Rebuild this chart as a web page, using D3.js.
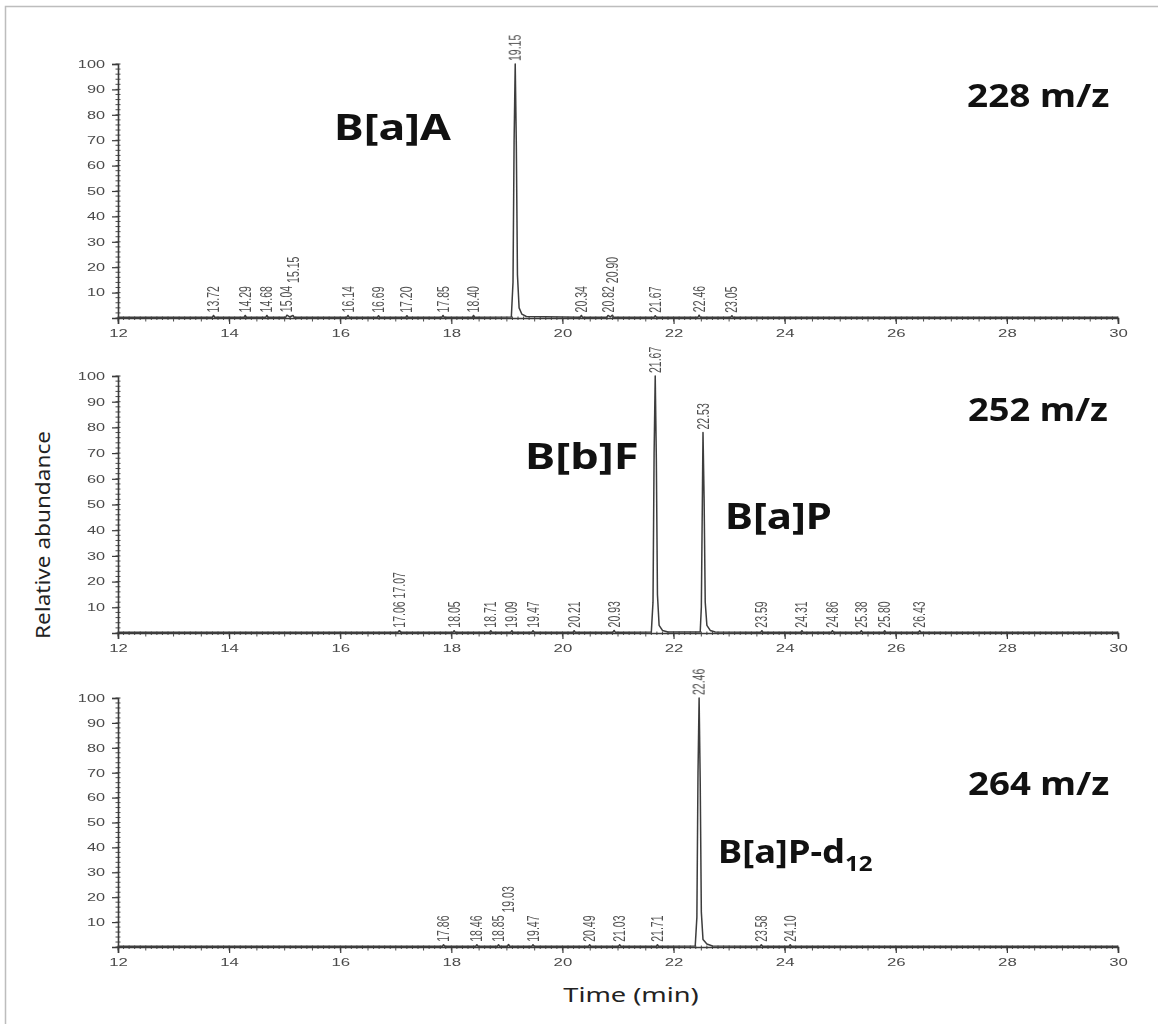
<!DOCTYPE html>
<html>
<head>
<meta charset="utf-8">
<script src="https://cdn.jsdelivr.net/npm/d3@7"></script>
<style>
  html, body { margin: 0; padding: 0; background: #fff; }
  svg { display: block; }
</style>
</head>
<body>
<svg id="chart" width="1158" height="1024"></svg>
<script>
// ---- Axis ticks --------------------------------------------------------
const timeTicks = [12, 14, 16, 18, 20, 22, 24, 26, 28, 30];
const abundanceTicks = [10, 20, 30, 40, 50, 60, 70, 80, 90, 100];

// ---- m/z 228 chromatogram: [time (min), relative abundance (%)] --------
const trace228 = [
  [12.00, 0.3], [13.70, 0.3], [13.72, 1.0], [13.74, 0.3],
  [14.27, 0.3], [14.29, 1.0], [14.31, 0.3],
  [14.66, 0.3], [14.68, 1.0], [14.70, 0.3],
  [15.02, 0.3], [15.04, 1.1], [15.09, 0.4], [15.15, 1.0], [15.17, 0.3],
  [16.12, 0.3], [16.14, 1.0], [16.16, 0.3],
  [16.67, 0.3], [16.69, 0.9], [16.71, 0.3],
  [17.18, 0.3], [17.20, 0.9], [17.22, 0.3],
  [17.83, 0.3], [17.85, 1.0], [17.87, 0.3],
  [18.38, 0.3], [18.40, 1.0], [18.42, 0.3],
  [19.08, 0.4], [19.11, 14], [19.13, 70], [19.15, 100], [19.17, 68],
  [19.19, 17], [19.22, 4], [19.27, 1.5], [19.35, 0.6],
  [20.32, 0.3], [20.34, 1.0], [20.36, 0.3],
  [20.80, 0.3], [20.82, 1.0], [20.86, 0.4], [20.90, 1.1], [20.92, 0.3],
  [21.65, 0.3], [21.67, 0.9], [21.69, 0.3],
  [22.44, 0.3], [22.46, 1.1], [22.48, 0.3],
  [23.03, 0.3], [23.05, 0.9], [23.07, 0.3],
  [30.00, 0.3]
];
const peaks228 = [
  [13.72, 1.0], [14.29, 1.0], [14.68, 1.0], [15.04, 1.1], [15.15, 1.0],
  [16.14, 1.0], [16.69, 0.9], [17.20, 0.9], [17.85, 1.0], [18.40, 1.0],
  [19.15, 100], [20.34, 1.0], [20.82, 1.0], [20.90, 1.1], [21.67, 0.9],
  [22.46, 1.1], [23.05, 0.9]
];

// ---- m/z 252 chromatogram ----------------------------------------------
const trace252 = [
  [12.00, 0.3], [17.04, 0.3], [17.06, 0.9], [17.065, 0.6], [17.07, 0.9], [17.09, 0.3],
  [18.03, 0.3], [18.05, 0.9], [18.07, 0.3],
  [18.69, 0.3], [18.71, 0.9], [18.73, 0.3],
  [19.07, 0.3], [19.09, 0.9], [19.11, 0.3],
  [19.45, 0.3], [19.47, 0.9], [19.49, 0.3],
  [20.19, 0.3], [20.21, 0.9], [20.23, 0.3],
  [20.91, 0.3], [20.93, 1.0], [20.95, 0.3],
  [21.60, 0.4], [21.63, 12], [21.65, 70], [21.67, 100], [21.69, 68],
  [21.71, 15], [21.74, 3], [21.80, 1.0], [21.90, 0.4],
  [22.48, 0.4], [22.50, 10], [22.52, 55], [22.53, 78], [22.55, 52],
  [22.57, 12], [22.60, 3], [22.66, 1.0], [22.75, 0.4],
  [23.57, 0.3], [23.59, 0.9], [23.61, 0.3],
  [24.29, 0.3], [24.31, 0.9], [24.33, 0.3],
  [24.84, 0.3], [24.86, 0.9], [24.88, 0.3],
  [25.36, 0.3], [25.38, 0.9], [25.40, 0.3],
  [25.78, 0.3], [25.80, 0.9], [25.82, 0.3],
  [26.41, 0.3], [26.43, 0.9], [26.45, 0.3],
  [30.00, 0.3]
];
const peaks252 = [
  [17.06, 0.9], [17.07, 0.9], [18.05, 0.9], [18.71, 0.9], [19.09, 0.9],
  [19.47, 0.9], [20.21, 0.9], [20.93, 1.0], [21.67, 100], [22.53, 78],
  [23.59, 0.9], [24.31, 0.9], [24.86, 0.9], [25.38, 0.9], [25.80, 0.9],
  [26.43, 0.9]
];

// ---- m/z 264 chromatogram ----------------------------------------------
const trace264 = [
  [12.00, 0.3], [17.84, 0.3], [17.86, 0.9], [17.88, 0.3],
  [18.44, 0.3], [18.46, 0.9], [18.48, 0.3],
  [18.83, 0.3], [18.85, 0.9], [18.87, 0.3],
  [19.01, 0.3], [19.03, 1.0], [19.05, 0.3],
  [19.45, 0.3], [19.47, 0.9], [19.49, 0.3],
  [20.47, 0.3], [20.49, 0.9], [20.51, 0.3],
  [21.01, 0.3], [21.03, 0.9], [21.05, 0.3],
  [21.69, 0.3], [21.71, 0.9], [21.73, 0.3],
  [22.39, 0.4], [22.42, 12], [22.44, 70], [22.46, 100], [22.48, 66],
  [22.50, 14], [22.53, 3], [22.60, 1.2], [22.70, 0.4],
  [23.56, 0.3], [23.58, 0.9], [23.60, 0.3],
  [24.08, 0.3], [24.10, 0.9], [24.12, 0.3],
  [30.00, 0.3]
];
const peaks264 = [
  [17.86, 0.9], [18.46, 0.9], [18.85, 0.9], [19.03, 1.0], [19.47, 0.9],
  [20.49, 0.9], [21.03, 0.9], [21.71, 0.9], [22.46, 100], [23.58, 0.9],
  [24.10, 0.9]
];

// ---- Text annotations --------------------------------------------------
const ionLabels = ["228 m/z", "252 m/z", "264 m/z"];
const compoundLabels228 = ["B[a]A"];
const compoundLabels252 = ["B[b]F", "B[a]P"];
const compoundLabel264 = { main: "B[a]P-d", sub: "12" };

// ---- Layout ------------------------------------------------------------
const svg = d3.select("#chart");
const x = d3.scaleLinear().domain([12, 30]).range([118, 1118]);

const panels = [
  { trace: trace228, peaks: peaks228, top: 64,  bottom: 318 },
  { trace: trace252, peaks: peaks252, top: 376, bottom: 633 },
  { trace: trace264, peaks: peaks264, top: 698, bottom: 947 }
];

const defs = svg.append("defs");
defs.append("filter").attr("id", "soft")
  .append("feGaussianBlur").attr("stdDeviation", 0.45);

// page frame
svg.append("path")
  .attr("d", "M5.5,1024 L5.5,6.5 L1158,6.5")
  .attr("fill", "none").attr("stroke", "#bdbdbd").attr("stroke-width", 1.5);

const axisColor = "#3a3a3a";
const tickFont = "'Liberation Sans', Arial, sans-serif";

function stretchText(sel, sx) {
  sel.each(function () {
    const t = d3.select(this);
    const tx = +t.attr("x") || 0;
    const ty = +t.attr("y") || 0;
    t.attr("x", 0).attr("y", 0)
      .attr("transform", `translate(${tx},${ty}) scale(${sx},1)`);
  });
}

panels.forEach((p, i) => {
  const y = d3.scaleLinear().domain([0, 100]).range([p.bottom, p.top]);
  const g = svg.append("g").attr("class", "panel-" + i);
  const axes = g.append("g").attr("filter", "url(#soft)");

  // x axis: minor ticks every 0.1 min, mid ticks every 0.5, labelled every 2
  const minorX = d3.range(120, 301).map(v => v / 10);
  axes.append("g")
    .attr("transform", `translate(0,${p.bottom})`)
    .selectAll("line").data(minorX).join("line")
    .attr("x1", d => x(d)).attr("x2", d => x(d))
    .attr("y1", -1.5)
    .attr("y2", d => (Math.round(d * 10) % 5 === 0 ? 3.5 : 2))
    .attr("stroke", axisColor).attr("stroke-width", 0.9);

  const xAxis = axes.append("g")
    .attr("transform", `translate(0,${p.bottom})`)
    .call(d3.axisBottom(x).tickValues(timeTicks).tickSize(6).tickPadding(6)
      .tickFormat(d3.format("d")));
  xAxis.select(".domain").attr("stroke", axisColor).attr("stroke-width", 1.6);
  xAxis.selectAll(".tick line").attr("stroke", axisColor).attr("stroke-width", 1.2);
  xAxis.selectAll("text")
    .attr("font-family", tickFont).attr("font-size", 10.5).attr("fill", "#4a4a4a")
    .call(stretchText, 1.6);

  // y axis: minor ticks every 2 %, labelled every 10 %
  const minorY = d3.range(0, 101, 2);
  axes.append("g")
    .attr("transform", `translate(${x(12)},0)`)
    .selectAll("line").data(minorY).join("line")
    .attr("x1", -2.5).attr("x2", 2.5)
    .attr("y1", d => y(d)).attr("y2", d => y(d))
    .attr("stroke", axisColor).attr("stroke-width", 0.9);

  const yAxis = axes.append("g")
    .attr("transform", `translate(${x(12)},0)`)
    .call(d3.axisLeft(y).tickValues(abundanceTicks).tickSize(6).tickPadding(7)
      .tickFormat(d3.format("d")));
  yAxis.select(".domain").attr("stroke", axisColor).attr("stroke-width", 1.6);
  yAxis.selectAll(".tick line").attr("stroke", axisColor).attr("stroke-width", 1.2);
  yAxis.selectAll("text")
    .attr("font-family", tickFont).attr("font-size", 10.5).attr("fill", "#4a4a4a")
    .call(stretchText, 1.55);

  // chromatogram trace
  const line = d3.line().x(d => x(d[0])).y(d => y(d[1]));
  g.append("path")
    .datum(p.trace)
    .attr("d", line)
    .attr("fill", "none")
    .attr("stroke", "#3c3c3c")
    .attr("stroke-width", 1.5)
    .attr("stroke-linejoin", "round")
    .attr("filter", "url(#soft)");

  // retention-time labels above each peak apex, lifted when they collide
  const lblG = g.append("g").attr("filter", "url(#soft)");
  const placed = [];
  p.peaks.slice().sort((a, b) => a[0] - b[0]).forEach(([t, a]) => {
    const px = x(t);
    const txt = lblG.append("text")
      .text(t.toFixed(2))
      .attr("font-family", tickFont)
      .attr("font-size", 10.5)
      .attr("fill", "#505050")
      .attr("dy", "0.35em");
    const len = txt.node().getComputedTextLength();
    let bottom = y(a) - 3;
    let moved = true;
    while (moved) {
      moved = false;
      for (const q of placed) {
        if (Math.abs(q.x - px) < 11 && bottom > q.top - 2 && bottom - len < q.bottom) {
          bottom = q.top - 3;
          moved = true;
        }
      }
    }
    placed.push({ x: px, bottom: bottom, top: bottom - len });
    txt.attr("transform", `translate(${px},${bottom}) scale(1.5,1) rotate(-90)`);
  });
});

// ---- Compound and ion annotations --------------------------------------
const annFont = "'Noto Sans', 'Open Sans', sans-serif";
function annotate(label, px, py, size, sx) {
  return svg.append("text")
    .attr("transform", `translate(${px},${py}) scale(${sx},1)`)
    .attr("font-family", annFont)
    .attr("font-weight", 700)
    .attr("font-size", size)
    .attr("fill", "#111")
    .text(label);
}

annotate(ionLabels[0], 967, 107, 33, 1.12);
annotate(ionLabels[1], 968, 421, 33, 1.1);
annotate(ionLabels[2], 968, 795, 33, 1.11);

annotate(compoundLabels228[0], 334, 140, 36, 1.24);
annotate(compoundLabels252[0], 525, 469, 36, 1.26);
annotate(compoundLabels252[1], 725, 529, 35, 1.2);

const dLabel = annotate(compoundLabel264.main, 718, 863, 33, 1.1);
dLabel.append("tspan")
  .attr("font-size", 22)
  .attr("dy", 8)
  .text(compoundLabel264.sub);

// ---- Axis titles -------------------------------------------------------
svg.append("text")
  .attr("transform", "translate(50,535) rotate(-90) scale(1.13,1)")
  .attr("text-anchor", "middle")
  .attr("font-family", annFont)
  .attr("font-size", 20)
  .attr("fill", "#222")
  .text("Relative abundance");

svg.append("text")
  .attr("transform", "translate(631,1002) scale(1.36,1)")
  .attr("text-anchor", "middle")
  .attr("font-family", annFont)
  .attr("font-size", 20)
  .attr("fill", "#222")
  .text("Time  (min)");
</script>
</body>
</html>
